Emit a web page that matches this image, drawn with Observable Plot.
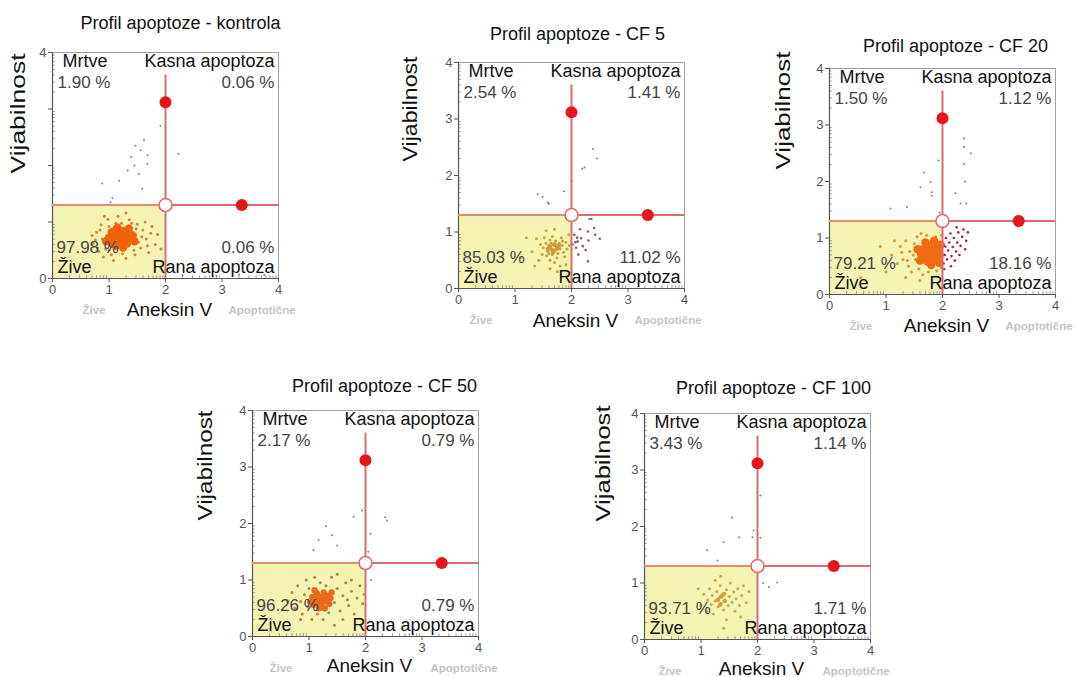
<!DOCTYPE html>
<html><head><meta charset="utf-8">
<script src="https://cdn.jsdelivr.net/npm/d3@7"></script>
<script src="https://cdn.jsdelivr.net/npm/@observablehq/plot@0.6"></script>
<style>
html,body{margin:0;padding:0;background:#fff}
body{width:1079px;height:677px;overflow:hidden;font-family:"Liberation Sans",Arial,sans-serif}
#root{position:relative;width:1079px;height:677px}
.panel{position:absolute}
.panel svg{overflow:visible}
</style></head><body><div id="root"></div>
<script>
// ---------- data ----------
const titles = ["Profil apoptoze - kontrola","Profil apoptoze - CF 5","Profil apoptoze - CF 20","Profil apoptoze - CF 50","Profil apoptoze - CF 100"];
const xLabel = "Aneksin V";
const yLabel = "Vijabilnost";
const nameDead = "Mrtve", nameLate = "Kasna apoptoza", nameEarly = "Rana apoptoza", nameLive = "Žive";
const tagLive = "Žive", tagApo = "Apoptotične";
const pctDead  = [1.90, 2.54, 1.50, 2.17, 3.43];
const pctLate  = [0.06, 1.41, 1.12, 0.79, 1.14];
const pctEarly = [0.06, 11.02, 18.16, 0.79, 1.71];
const pctLive  = [97.98, 85.03, 79.21, 96.26, 93.71];
const gateX = 2, gateY = 1.3, gateTop = 3.6;
const markerX = [2, 3.35], markerY = [3.12, 1.3];
const axisTicks = [0, 1, 2, 3, 4];
const yTickLabels = [[0, 4], [0,1,2,3,4], [0,1,2,3,4], [0,1,2,3,4], [0,1,2,3,4]];

// dense centres of the cell clouds
const core1 = [[1.0,0.72],[1.05,0.62],[1.05,0.82],[1.1,0.7],[1.12,0.58],[1.12,0.86],[1.18,0.64],[1.18,0.8],[1.2,0.72],[1.25,0.6],[1.25,0.84],[1.28,0.7],[1.32,0.62],[1.32,0.8],[1.38,0.7],[1.42,0.76],[0.95,0.66],[1.45,0.66],[1.15,0.9],[1.25,0.55],[1.35,0.88],[1.08,0.78]];
const core2 = [[1.62,0.74],[1.66,0.68],[1.7,0.78],[1.74,0.7],[1.68,0.64],[1.58,0.7],[1.78,0.76]];
const core3 = [[1.62,0.72],[1.66,0.62],[1.68,0.82],[1.72,0.7],[1.74,0.58],[1.76,0.86],[1.78,0.66],[1.8,0.78],[1.82,0.7],[1.84,0.6],[1.86,0.84],[1.88,0.72],[1.9,0.64],[1.92,0.8],[1.95,0.7],[1.7,0.92],[1.85,0.95],[1.97,0.88],[1.6,0.6],[1.8,0.52],[1.94,0.56],[1.56,0.8]];
const core4 = [[1.02,0.62],[1.06,0.7],[1.08,0.56],[1.12,0.66],[1.14,0.76],[1.16,0.6],[1.2,0.7],[1.22,0.56],[1.24,0.66],[1.26,0.78],[1.3,0.62],[1.32,0.72],[1.36,0.58],[1.38,0.68],[1.18,0.5],[1.28,0.5],[1.1,0.82],[1.4,0.78]];
const core5 = [[1.3,0.7],[1.36,0.76],[1.42,0.68],[1.34,0.62],[1.4,0.8]];
// sparser cells of the live population
const halo1 = [[0.72,0.62],[0.78,0.82],[0.82,0.48],[0.86,0.95],[0.9,0.38],[0.98,1.05],[1.08,0.32],[1.16,1.1],[1.3,0.36],[1.36,1.04],[1.46,0.42],[1.5,0.96],[1.56,0.54],[1.6,0.86],[1.66,0.7],[1.7,0.46],[1.76,0.92],[1.82,0.6],[0.7,0.76],[0.94,0.52],[1.0,0.92],[1.44,0.5],[1.48,0.88],[1.24,0.44],[1.22,0.98],[0.88,0.7],[1.58,0.74],[1.04,0.42],[1.86,0.78],[1.64,1.0],[0.8,0.54],[1.92,0.52],[1.3,1.16],[0.92,1.1],[1.52,0.64],[0.84,0.86],[1.4,0.98],[1.68,0.58],[1.0,0.5],[1.12,0.98],[0.76,0.68],[1.74,0.8]];
const halo2 = [[1.5,0.72],[1.55,0.8],[1.58,0.66],[1.6,0.76],[1.62,0.86],[1.64,0.7],[1.66,0.6],[1.68,0.78],[1.7,0.68],[1.72,0.84],[1.74,0.74],[1.76,0.62],[1.78,0.8],[1.8,0.7],[1.84,0.76],[1.86,0.64],[1.9,0.82],[1.92,0.7],[1.62,0.5],[1.7,0.46],[1.56,0.58],[1.82,0.9],[1.66,0.92],[1.74,0.54],[1.88,0.56],[1.96,0.76],[1.52,0.9],[1.6,0.62],[1.78,0.72],[1.7,0.76],[1.64,0.8],[1.84,0.84],[1.3,0.65],[1.38,0.88],[1.42,0.5],[1.45,0.78],[1.2,0.9],[1.55,1.02],[1.7,1.05],[1.8,0.4],[1.62,0.35],[1.95,0.95],[1.9,0.42],[1.48,0.6],[1.75,0.3],[1.1,0.55],[1.35,0.4]];
const halo3 = [[1.1,0.7],[1.2,0.55],[1.25,0.85],[1.3,0.62],[1.35,0.95],[1.4,0.5],[1.42,0.76],[1.45,0.4],[1.5,0.9],[1.52,0.62],[1.55,1.02],[1.58,0.45],[1.62,1.08],[1.65,0.35],[1.72,1.05],[1.75,0.4],[1.88,1.02],[1.9,0.42],[1.98,0.48],[1.48,0.7],[1.38,0.6],[1.28,0.75],[0.9,0.85],[0.55,0.3],[1.0,0.4],[1.6,0.25],[1.15,0.95],[1.35,0.3],[1.98,1.05]];
const halo4 = [[0.62,0.62],[0.7,0.78],[0.75,0.5],[0.8,0.9],[0.85,0.62],[0.88,0.4],[0.92,0.74],[0.95,1.0],[0.98,0.52],[1.0,0.85],[1.05,0.3],[1.1,1.05],[1.15,0.4],[1.2,0.95],[1.25,0.3],[1.3,0.9],[1.35,0.42],[1.4,1.05],[1.45,0.6],[1.5,0.85],[1.55,0.45],[1.6,0.72],[1.65,0.95],[1.7,0.55],[1.75,0.8],[1.8,0.4],[1.85,0.68],[1.9,0.9],[1.95,0.58],[1.98,0.75],[1.6,0.3],[1.75,1.0],[1.45,0.2],[1.5,1.1],[0.85,0.3],[1.68,0.65]];
const halo5 = [[1.0,0.6],[1.05,0.8],[1.1,0.5],[1.12,0.7],[1.15,0.9],[1.18,0.62],[1.2,0.78],[1.22,0.45],[1.25,0.68],[1.28,0.85],[1.3,0.58],[1.32,0.74],[1.34,0.95],[1.36,0.64],[1.38,0.8],[1.4,0.52],[1.42,0.7],[1.45,0.88],[1.48,0.6],[1.5,0.76],[1.52,1.0],[1.55,0.66],[1.58,0.84],[1.6,0.5],[1.62,0.72],[1.65,0.9],[1.68,0.6],[1.72,0.78],[1.75,0.95],[1.8,0.65],[1.35,1.12],[1.45,0.35],[1.25,1.05],[1.7,0.4],[0.95,0.9],[1.4,0.2],[1.85,0.85],[1.28,0.7],[1.42,0.82],[1.33,0.6]];
// annexin-positive / dead events
const apo1 = [];
const apo2 = [[2.35,1.23],[2.17,0.89],[2.11,0.83],[2.07,0.82],[2.29,1.01],[2.4,1.07],[2.42,0.95],[2.29,0.48],[2.08,0.72],[2.2,0.75],[2.05,0.95],[2.12,0.6],[2.25,0.68],[2.3,0.85],[2.02,0.78],[2.15,1.05],[2.5,0.88],[2.1,0.9]];
const apo3 = [[2.02,0.55],[2.04,0.7],[2.05,0.85],[2.06,1.0],[2.08,0.62],[2.1,0.78],[2.12,0.92],[2.14,1.08],[2.16,0.68],[2.18,0.84],[2.2,1.0],[2.22,0.6],[2.24,0.76],[2.26,0.92],[2.28,1.1],[2.3,0.7],[2.32,0.86],[2.35,1.02],[2.37,1.15],[2.4,0.8],[2.42,0.95],[2.03,0.45],[2.15,0.5],[2.25,1.19],[2.45,1.1]];
const apo4 = [];
const apo5 = [];
const out1 = [[1.47,2.35],[1.56,2.27],[1.39,2.15],[1.68,2.18],[1.53,1.85],[1.68,2.03],[0.88,1.68],[1.06,1.42],[1.03,1.35],[1.33,1.91],[1.18,1.73],[1.59,1.59],[1.45,2.0],[1.62,2.45],[2.23,2.21],[1.91,2.7],[2.3,0.06],[2.9,0.05],[3.3,0.07],[3.75,0.06]];
const out2 = [[2.38,2.47],[2.23,2.14],[2.19,2.12],[1.4,1.67],[1.58,1.52],[1.6,1.5],[1.87,1.72],[1.49,1.62],[2.31,1.23],[2.45,2.3],[2.0,1.9]];
const out3 = [[2.38,2.76],[2.38,2.61],[2.38,2.31],[1.79,1.99],[1.67,2.16],[1.61,1.9],[1.81,1.81],[1.81,1.75],[2.23,1.79],[1.93,2.37],[2.32,1.61],[1.08,1.52],[1.37,1.55],[2.42,1.61],[1.95,1.45],[2.5,2.5],[2.4,2.0]];
const out4 = [[1.17,1.71],[1.41,1.79],[1.5,1.61],[1.08,1.53],[1.79,2.12],[2.35,2.11],[2.38,2.05],[2.09,1.82],[1.94,2.23],[1.3,1.95],[2.05,1.5],[2.1,1.0]];
const out5 = [[1.55,2.16],[1.4,1.72],[1.11,1.58],[1.29,1.4],[1.67,1.81],[1.91,1.81],[2.05,2.55],[2.05,1.8],[2.2,0.93],[2.35,1.01],[1.93,1.93],[2.1,1.0]];

const cores = [core1, core2, core3, core4, core5];
const halos = [halo1, halo2, halo3, halo4, halo5];
const apos = [apo1, apo2, apo3, apo4, apo5];
const outs = [out1, out2, out3, out4, out5];

// ---------- layout & style ----------
const S = 226, mL = 60, mT = 40, mR = 24, mB = 50;
const layout = [
  {left:52,  top:52,  titleDx:15, titleUp:24, yLabX:34, yLabDy:8,   yLabLen:120, xLabDown:37, tagLiveX:30, tagApoX:176},
  {left:458, top:62,  titleDx:6,  titleUp:23, yLabX:48, yLabDy:-14, yLabLen:105, xLabDown:38, tagLiveX:11, tagApoX:176},
  {left:829, top:68,  titleDx:13, titleUp:17, yLabX:46, yLabDy:-12, yLabLen:118, xLabDown:37, tagLiveX:20, tagApoX:176},
  {left:252, top:410, titleDx:19, titleUp:19, yLabX:47, yLabDy:-3,  yLabLen:110, xLabDown:35, tagLiveX:17, tagApoX:178},
  {left:644, top:413, titleDx:16, titleUp:20, yLabX:41, yLabDy:-5,  yLabLen:116, xLabDown:35, tagLiveX:14, tagApoX:178}
];
const palette = [
  {core:"#f0620c", coreR:4.2, halo:"#cf7a22", apo:"#7a3a60"},
  {core:"#cf9a36", coreR:2.2, halo:"#c9982e", apo:"#8a5a80"},
  {core:"#f06a14", coreR:4.2, halo:"#de8a26", apo:"#a02450"},
  {core:"#ea6a1c", coreR:3.2, halo:"#b27a26", apo:"#7a4a60"},
  {core:"#cfa238", coreR:2.2, halo:"#c8a040", apo:"#7a6a7a"}
];
const FONT = "Liberation Sans, Arial, sans-serif";
const minorTicks = d3.range(0, 4).flatMap(k => d3.range(2, 10).map(m => k + Math.log10(m)));
const fmt = v => v.toFixed(2) + " %";

function panel(i) {
  const L = layout[i], C = palette[i];
  const txt = (s, o) => Plot.text([s], {text: d => d, fontFamily: FONT, lineAnchor: "bottom", ...o});
  const plot = Plot.plot({
    width: mL + S + mR, height: mT + S + mB,
    marginLeft: mL, marginRight: mR, marginTop: mT, marginBottom: mB,
    x: {domain: [0, 4]}, y: {domain: [0, 4]},
    style: {fontFamily: FONT, background: "transparent", overflow: "visible"},
    marks: [
      Plot.rect([0], {x1: 0, x2: gateX, y1: 0, y2: gateY, fill: "#f3f4b4"}),
      Plot.ruleY(minorTicks, {x1: 0, x2: 0.05, stroke: "#888", strokeWidth: 0.8}),
      Plot.ruleX(minorTicks, {y1: 0, y2: 0.05, stroke: "#888", strokeWidth: 0.8}),
      Plot.frame({stroke: "#a0a0a0", strokeWidth: 1}),
      Plot.ruleX([0], {stroke: "#555", strokeWidth: 1.2}),
      Plot.ruleY([0], {stroke: "#555", strokeWidth: 1.2}),
      Plot.dot(halos[i], {x: d => d[0], y: d => d[1], r: 1.5, fill: C.halo, stroke: null, fillOpacity: 0.9}),
      Plot.dot(cores[i], {x: d => d[0], y: d => d[1], r: C.coreR, fill: C.core, stroke: null, fillOpacity: 1}),
      Plot.dot(apos[i], {x: d => d[0], y: d => d[1], r: 1.3, fill: C.apo, stroke: null}),
      Plot.dot(outs[i], {x: d => d[0], y: d => d[1], r: 1, fill: "#6a6070", stroke: null, fillOpacity: 0.8}),
      Plot.ruleY([gateY], {x1: 0, x2: gateX, stroke: "#e58c6c", strokeWidth: 2}),
      Plot.ruleY([gateY], {x1: gateX, x2: 4, stroke: "#e06a6a", strokeWidth: 2}),
      Plot.ruleX([gateX], {y1: 0, y2: gateTop, stroke: "#e06a6a", strokeWidth: 2}),
      Plot.dot(markerX.map((x, j) => [x, markerY[j]]), {x: d => d[0], y: d => d[1], r: 6, fill: "#e8141c", stroke: null}),
      Plot.dot([[gateX, gateY]], {x: d => d[0], y: d => d[1], r: 6.5, fill: "#fff", stroke: "#e06a6a", strokeWidth: 1.6}),
      // quadrant labels
      txt(nameDead, {frameAnchor: "top-left", dx: 10, dy: 14, fontSize: 18, fill: "#111"}),
      txt(fmt(pctDead[i]), {frameAnchor: "top-left", dx: 5, dy: 35, fontSize: 17, fill: "#444"}),
      txt(nameLate, {frameAnchor: "top-right", textAnchor: "end", dx: -4, dy: 14, fontSize: 18, fill: "#111"}),
      txt(fmt(pctLate[i]), {frameAnchor: "top-right", textAnchor: "end", dx: -4, dy: 35, fontSize: 17, fill: "#444"}),
      txt(fmt(pctLive[i]), {frameAnchor: "bottom-left", dx: 4, dy: -26, fontSize: 17, fill: "#444"}),
      txt(nameLive, {frameAnchor: "bottom-left", dx: 5, dy: -6, fontSize: 18, fill: "#111"}),
      txt(fmt(pctEarly[i]), {frameAnchor: "bottom-right", textAnchor: "end", dx: -4, dy: -26, fontSize: 17, fill: "#444"}),
      txt(nameEarly, {frameAnchor: "bottom-right", textAnchor: "end", dx: -4, dy: -6, fontSize: 18, fill: "#111"}),
      // title and axis labels
      txt(titles[i], {frameAnchor: "top", dx: L.titleDx, dy: -L.titleUp, fontSize: 18, fill: "#111"}),
      txt(xLabel, {frameAnchor: "bottom", dx: 4, dy: L.xLabDown, fontSize: 19, fill: "#111"}),
      txt(yLabel, {frameAnchor: "left", rotate: -90, lineAnchor: "middle", dx: -L.yLabX, dy: L.yLabDy, fontSize: 20, fill: "#111"}),
      txt(tagLive, {frameAnchor: "bottom-left", dx: L.tagLiveX, dy: 35, fontSize: 11.5, fontWeight: "bold", fill: "#c4c4c4"}),
      txt(tagApo, {frameAnchor: "bottom-left", textAnchor: "start", dx: L.tagApoX, dy: 35, fontSize: 11.5, fontWeight: "bold", fill: "#c4c4c4"}),
      Plot.axisX({ticks: axisTicks, tickSize: 4, tickPadding: 2, fontSize: 13, color: "#555", label: null,
                  tickFormat: d => String(d)}),
      Plot.axisY({ticks: axisTicks, tickSize: 4, tickPadding: 2, fontSize: 13, color: "#555", label: null,
                  tickFormat: d => yTickLabels[i].includes(d) ? String(d) : ""})
    ]
  });
  d3.select(plot).selectAll("text").filter(function(){ return this.textContent === yLabel; })
    .attr("textLength", L.yLabLen).attr("lengthAdjust", "spacingAndGlyphs");
  const div = document.createElement("div");
  div.className = "panel";
  div.style.left = (L.left - mL) + "px";
  div.style.top = (L.top - mT) + "px";
  div.appendChild(plot);
  document.getElementById("root").appendChild(div);
}
for (let i = 0; i < 5; i++) panel(i);
</script></body></html>
